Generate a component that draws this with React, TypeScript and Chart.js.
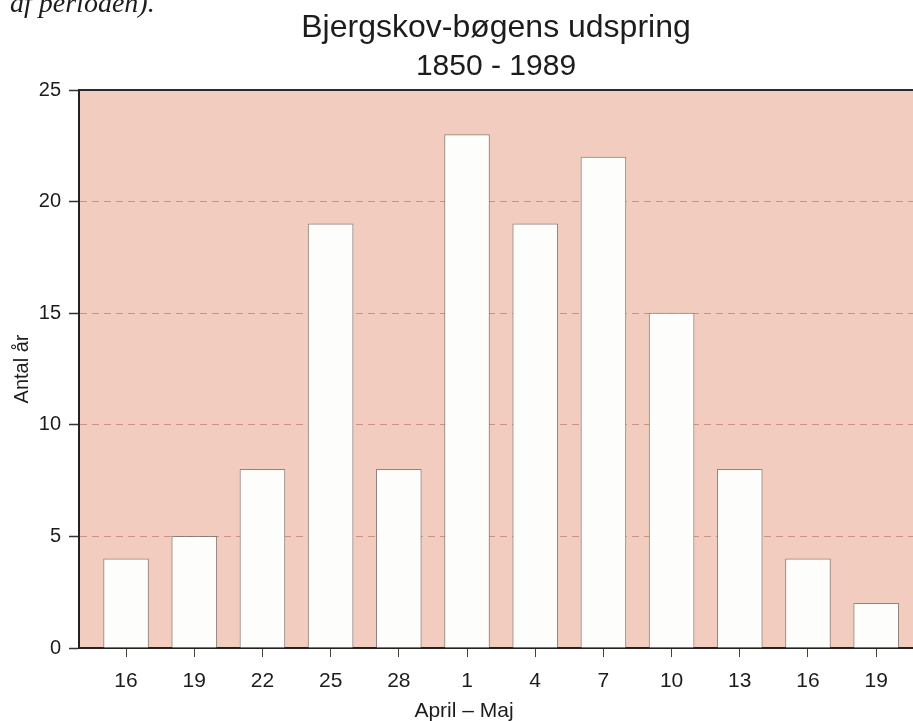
import React, { useEffect, useRef } from "react";
import { Chart, registerables } from "chart.js";

Chart.register(...registerables);

const categories = ["16", "19", "22", "25", "28", "1", "4", "7", "10", "13", "16", "19"];
const counts = [4, 5, 8, 19, 8, 23, 19, 22, 15, 8, 4, 2];
const titleLines = ["Bjergskov-bøgens udspring", "1850 - 1989"];
const xTitle = "April – Maj";
const yTitle = "Antal år";
const captionText = "af perioden).";

const W = 913;
const H = 721;
const SANS = "'Liberation Sans', Arial, Helvetica, sans-serif";
const SERIF = "'Liberation Serif', 'Times New Roman', serif";
const TEXT = "#1c1c1c";
const PINK = "#f2cdbf";

const decorPlugin = {
  id: "decor",
  beforeDraw(chart: any) {
    const { ctx, chartArea } = chart;
    ctx.save();
    ctx.fillStyle = "#ffffff";
    ctx.fillRect(0, 0, chart.width, chart.height);
    ctx.fillStyle = PINK;
    ctx.fillRect(chartArea.left, chartArea.top, chartArea.right - chartArea.left, chartArea.bottom - chartArea.top);
    ctx.restore();
  },
  afterDraw(chart: any) {
    const { ctx, chartArea } = chart;
    ctx.save();
    ctx.strokeStyle = "#2a2a2a";
    ctx.lineWidth = 2;
    ctx.beginPath();
    ctx.moveTo(chartArea.left, chartArea.top);
    ctx.lineTo(chartArea.right, chartArea.top);
    ctx.stroke();

    ctx.fillStyle = TEXT;
    ctx.font = `italic 28px ${SERIF}`;
    ctx.textAlign = "left";
    ctx.textBaseline = "alphabetic";
    ctx.fillText(captionText, 10, 12);

    const cx = (chartArea.left + chartArea.right) / 2;
    ctx.textAlign = "center";
    ctx.font = `32px ${SANS}`;
    ctx.fillText(titleLines[0], cx, 37);
    ctx.font = `30px ${SANS}`;
    ctx.fillText(titleLines[1], cx, 75);

    ctx.font = `21px ${SANS}`;
    ctx.fillText(xTitle, cx - 32, 717);

    ctx.font = `20px ${SANS}`;
    ctx.translate(28, (chartArea.top + chartArea.bottom) / 2);
    ctx.rotate(-Math.PI / 2);
    ctx.textAlign = "center";
    ctx.fillText(yTitle, 0, 0);
    ctx.restore();
  },
};

export default function App() {
  const ref = useRef<HTMLCanvasElement | null>(null);

  useEffect(() => {
    if (!ref.current) return;
    const chart = new Chart(ref.current, {
      type: "bar",
      data: {
        datasets: [
          {
            data: counts.map((v, i) => ({ x: i, y: v })),
            backgroundColor: "#fdfdfc",
            borderColor: "rgba(130,118,115,0.85)",
            borderWidth: 1,
            barThickness: 45,
          },
        ],
      },
      options: {
        animation: false,
        responsive: false,
        events: [],
        layout: { padding: { top: 90, left: 0, right: 0, bottom: 0 } },
        plugins: {
          legend: { display: false },
          title: { display: false },
          tooltip: { enabled: false },
        },
        scales: {
          x: {
            type: "linear",
            offset: false,
            min: -0.69,
            max: 11.54,
            afterFit: (scale: any) => {
              scale.height = 73;
            },
            grid: {
              offset: false,
              drawOnChartArea: false,
              drawTicks: true,
              tickLength: 9,
              tickColor: "#444",
              tickWidth: 1,
            },
            border: { display: true, color: "#222", width: 2 },
            ticks: {
              stepSize: 1,
              includeBounds: false,
              autoSkip: false,
              maxRotation: 0,
              padding: 12,
              color: TEXT,
              font: { family: SANS, size: 21 },
              callback: (v: any) => {
                const i = Number(v);
                return Number.isInteger(i) && i >= 0 && i < categories.length ? categories[i] : "";
              },
            },
          },
          y: {
            min: 0,
            max: 25,
            afterFit: (scale: any) => {
              scale.width = 79;
            },
            grid: {
              color: (c: any) => (c.tick && (c.tick.value === 0 || c.tick.value === 25) ? "rgba(0,0,0,0)" : "rgba(175,105,95,0.6)"),
              lineWidth: 1,
              drawTicks: true,
              tickLength: 10,
              tickColor: "#333",
              tickWidth: 1.5,
              tickBorderDash: [],
            },
            border: { display: true, color: "#222", width: 2, dash: [7, 5] },
            ticks: {
              stepSize: 5,
              padding: 8,
              color: TEXT,
              font: { family: SANS, size: 20 },
            },
          },
        },
      },
      plugins: [decorPlugin],
    } as any);
    return () => chart.destroy();
  }, []);

  return (
    <div style={{ position: "fixed", left: 0, top: 0, width: W, height: H, background: "#fff" }}>
      <canvas ref={ref} width={W} height={H} style={{ width: W, height: H, display: "block" }} />
    </div>
  );
}
